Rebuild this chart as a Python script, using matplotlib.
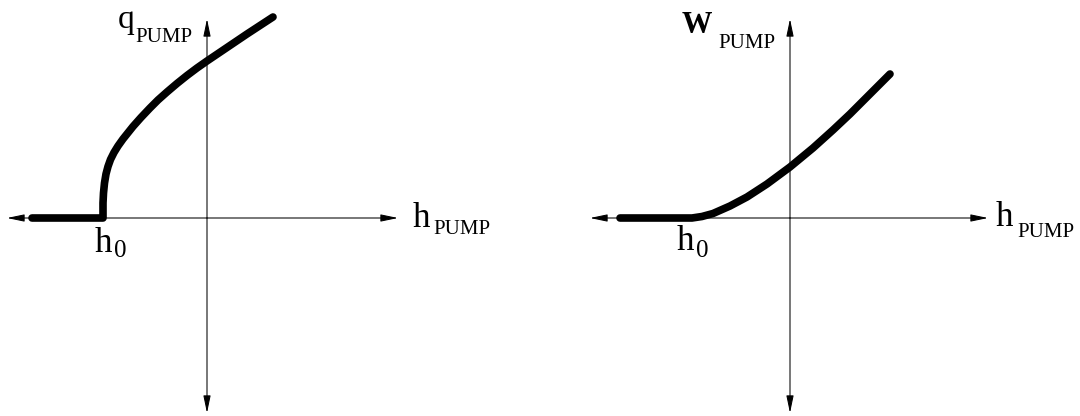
import numpy as np
import matplotlib.pyplot as plt

# ==========================================================
# DATOS
# ==========================================================

# curva q_PUMP vs h_PUMP
h_q = [-3.50, -2.08, -2.08, -2.07, -2.05, -2.02, -1.98, -1.93,
       -1.86, -1.78, -1.68, -1.48, -1.32, -1.14, -0.98, -0.80,
       -0.60, -0.40, -0.20, 0.00, 0.40, 0.80, 1.06, 1.32]
q_vals = [0.00, 0.00, 0.30, 0.50, 0.70, 0.88, 1.03, 1.17,
          1.31, 1.44, 1.58, 1.83, 2.01, 2.20, 2.36, 2.52,
          2.69, 2.85, 3.00, 3.14, 3.41, 3.68, 3.85, 4.02]

# curva W_PUMP vs h_PUMP
h_w = [-3.40, -1.96, -1.76, -1.54, -1.20, -0.86, -0.46, 0.00,
       0.46, 0.86, 1.20, 1.54, 1.80, 2.00]
w_vals = [0.00, 0.00, 0.03, 0.09, 0.24, 0.42, 0.68, 1.02,
          1.40, 1.76, 2.08, 2.42, 2.68, 2.88]

FUENTE = "Liberation Serif"


##############################################
# Ejes con flechas
##############################################
def dibuja_ejes(ax, x_min, x_max, y_min, y_max):

    estilo = dict(
        arrowstyle="-|>,head_length=1.05,head_width=0.22",
        color="black",
        lw=0.75,
        shrinkA=0,
        shrinkB=0,
        mutation_scale=10
    )

    for punto in [(x_min, 0), (x_max, 0), (0, y_min), (0, y_max)]:

        ax.annotate("", xy=punto, xytext=(0, 0), arrowprops=estilo)


##############################################
# Etiqueta con subindice
##############################################
def etiqueta(ax, pos, texto, tam, pos_sub, sub, tam_sub, peso="normal"):

    ax.text(pos[0], pos[1], texto, fontsize=tam, family=FUENTE,
            fontweight=peso, ha="left", va="baseline")

    ax.text(pos_sub[0], pos_sub[1], sub, fontsize=tam_sub, family=FUENTE,
            ha="left", va="baseline")


##############################################
# Curva gruesa
##############################################
def curva(ax, x, y):

    ax.plot(x, y, color="black", lw=5.5,
            solid_capstyle="round", solid_joinstyle="round")


fig = plt.figure(figsize=(10.8, 4.16), dpi=100)

# ----------------------------------------------------------
# Panel izquierdo
# ----------------------------------------------------------
ax1 = fig.add_axes([0, 0, 420 / 1080, 1])
ax1.set_xlim(-4.14, 4.26)
ax1.set_ylim(-3.96, 4.36)
ax1.axis("off")

dibuja_ejes(ax1, -4.0, 3.82, -3.9, 3.98)
curva(ax1, h_q, q_vals)

etiqueta(ax1, (4.12, -0.18), "h", 25, (4.52, -0.32), "PUMP", 15)
etiqueta(ax1, (-1.78, 3.80), "q", 24, (-1.44, 3.52), "PUMP", 15)
etiqueta(ax1, (-2.24, -0.68), "h", 25, (-1.86, -0.78), "0", 18)

# ----------------------------------------------------------
# Panel derecho
# ----------------------------------------------------------
ax2 = fig.add_axes([580 / 1080, 0, 500 / 1080, 1])
ax2.set_xlim(-4.2, 5.8)
ax2.set_ylim(-3.96, 4.36)
ax2.axis("off")

dibuja_ejes(ax2, -4.0, 3.96, -3.9, 3.98)
curva(ax2, h_w, w_vals)

etiqueta(ax2, (-2.16, 3.70), "W", 22, (-1.44, 3.40), "PUMP", 15, "bold")
etiqueta(ax2, (4.12, -0.16), "h", 25, (4.54, -0.38), "PUMP", 15)
etiqueta(ax2, (-2.26, -0.64), "h", 25, (-1.88, -0.78), "0", 18)

fig.savefig("out.png", dpi=100)
